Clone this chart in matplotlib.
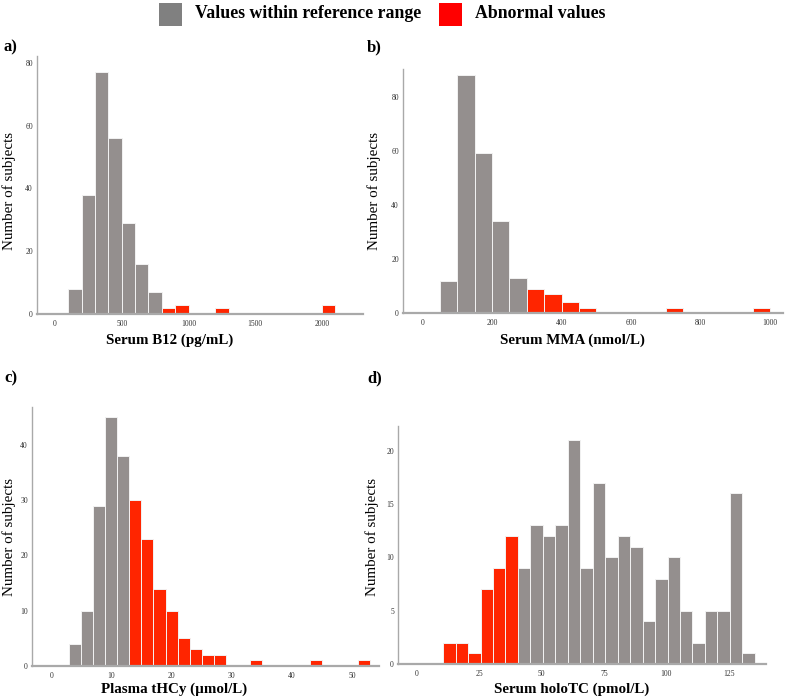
import matplotlib
matplotlib.use("Agg")
import matplotlib.pyplot as plt
from matplotlib.patches import Rectangle

plt.rcParams['font.family'] = ['Liberation Serif', 'DejaVu Serif']

# ---------------- data ----------------
# a) Serum B12 (pg/mL), bin width 100
b12_left = [100, 200, 300, 400, 500, 600, 700, 800, 900, 1200, 2000]
b12_counts = [8, 38, 77, 56, 29, 16, 7, 2, 3, 2, 3]
b12_abnormal = [False, False, False, False, False, False, False, True, True, True, True]
b12_width = 100

# b) Serum MMA (nmol/L), bin width 50
mma_left = [50, 100, 150, 200, 250, 300, 350, 400, 450, 700, 950]
mma_counts = [12, 88, 59, 34, 13, 9, 7, 4, 2, 2, 2]
mma_abnormal = [False, False, False, False, False, True, True, True, True, True, True]
mma_width = 50

# c) Plasma tHCy (umol/L), bin width 2
hcy_left = [3, 5, 7, 9, 11, 13, 15, 17, 19, 21, 23, 25, 27, 33, 43, 51]
hcy_counts = [4, 10, 29, 45, 38, 30, 23, 14, 10, 5, 3, 2, 2, 1, 1, 1]
hcy_abnormal = [False] * 5 + [True] * 11
hcy_width = 2

# d) Serum holoTC (pmol/L), bin width 5
htc_left = [10.5, 15.5, 20.5, 25.5, 30.5, 35.5, 40.5, 45.5, 50.5, 55.5, 60.5, 65.5, 70.5,
            75.5, 80.5, 85.5, 90.5, 95.5, 100.5, 105.5, 110.5, 115.5, 120.5, 125.5, 130.5]
htc_counts = [2, 2, 1, 7, 9, 12, 9, 13, 12, 13, 21, 9, 17, 10, 12, 11, 4, 8, 10, 5, 2, 5, 5, 16, 1]
htc_abnormal = [True] * 6 + [False] * 19
htc_width = 5

legend_labels = ["Values within reference range", "Abnormal values"]

GREY = "#948f8e"
RED = "#ff2500"
SPINE = "#a9a9a9"

W, H = 787, 697
fig = plt.figure(figsize=(W / 100, H / 100), dpi=100)
fig.patch.set_facecolor("white")


def px_axes(left, right, top, bottom):
    return fig.add_axes([left / W, (H - bottom) / H, (right - left) / W, (bottom - top) / H])


def draw(ax, lefts, counts, abn, width, xlim, ylim, xticks, yticks):
    colors = [RED if a else GREY for a in abn]
    ax.bar(lefts, counts, width=width, align='edge', color=colors,
           edgecolor="#f2f2f2", linewidth=0.7, zorder=2)
    ax.set_xlim(*xlim)
    ax.set_ylim(*ylim)
    ax.set_xticks(xticks)
    ax.set_yticks(yticks)
    for s in ["top", "right"]:
        ax.spines[s].set_visible(False)
    ax.spines["left"].set_color(SPINE)
    ax.spines["left"].set_linewidth(1.0)
    ax.spines["bottom"].set_color(SPINE)
    ax.spines["bottom"].set_linewidth(1.6)
    ax.tick_params(axis='both', length=0, labelsize=5.5, colors="#333333")
    ax.tick_params(axis='x', pad=4.5)
    ax.tick_params(axis='y', pad=3)


ax_a = px_axes(37, 363, 56, 314)
draw(ax_a, b12_left, b12_counts, b12_abnormal, b12_width, (-135, 2307), (0, 82.2),
     [0, 500, 1000, 1500, 2000], [0, 20, 40, 60, 80])

ax_b = px_axes(403, 783, 69, 313)
draw(ax_b, mma_left, mma_counts, mma_abnormal, mma_width, (-56, 1037), (0, 90.2),
     [0, 200, 400, 600, 800, 1000], [0, 20, 40, 60, 80])

ax_c = px_axes(32, 379, 407, 666)
draw(ax_c, hcy_left, hcy_counts, hcy_abnormal, hcy_width, (-3.2, 54.5), (0, 46.8),
     [0, 10, 20, 30, 40, 50], [0, 10, 20, 30, 40])

ax_d = px_axes(398, 766, 426, 664)
draw(ax_d, htc_left, htc_counts, htc_abnormal, htc_width, (-7.6, 140), (0, 22.3),
     [0, 25, 50, 75, 100, 125], [0, 5, 10, 15, 20])


def ftext(x, y, s, **kw):
    fig.text(x / W, (H - y) / H, s, **kw)


# y labels
for (x, y) in [(9, 191), (374, 191), (9, 537), (372, 537)]:
    ftext(x, y, "Number of subjects", rotation=90, ha='center', va='center', fontsize=10.8)

# x labels
ftext(170, 340, "Serum B12 (pg/mL)", ha='center', va='center', fontsize=10.8, fontweight='bold')
ftext(572, 340, "Serum MMA (nmol/L)", ha='center', va='center', fontsize=10.8, fontweight='bold')
ftext(174, 689, "Plasma tHCy (\u00b5mol/L)", ha='center', va='center', fontsize=10.8, fontweight='bold')
ftext(572, 689, "Serum holoTC (pmol/L)", ha='center', va='center', fontsize=10.8, fontweight='bold')

# panel letters
for (x, y, s) in [(4, 47, "a)"), (367, 47, "b)"), (4, 378, "c)"), (367, 378, "d)")]:
    ftext(x, y, s, ha='left', va='center', fontsize=12, fontweight='bold')

# legend
sq = 23
fig.patches.append(Rectangle((159 / W, (H - 26) / H), sq / W, sq / H,
                             transform=fig.transFigure, facecolor="#808080", edgecolor='none'))
ftext(195, 14, legend_labels[0], ha='left', va='center', fontsize=12.8, fontweight='bold')
fig.patches.append(Rectangle((439 / W, (H - 26) / H), sq / W, sq / H,
                             transform=fig.transFigure, facecolor="#ff0000", edgecolor='none'))
ftext(475, 14, legend_labels[1], ha='left', va='center', fontsize=12.8, fontweight='bold')

fig.savefig("out.png", dpi=100, facecolor="white")
